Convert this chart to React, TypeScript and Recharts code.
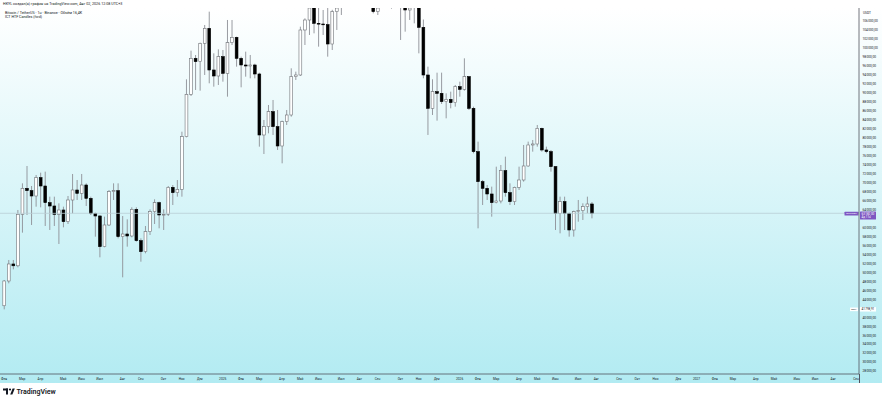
import { ComposedChart, Bar, XAxis, YAxis, ReferenceLine } from "recharts";

// Bitcoin / TetherUS, weekly candles (week 0 = first visible bar)
const OPEN = [
  42600, 48113, 51899, 51500, 62959, 68749, 68229, 67041, 71124, 69268,
  65557, 64815, 62959, 63924, 61325, 66150, 68377, 67635, 69491, 66522,
  63181, 62588, 55759, 60584, 68006, 68229, 57985, 58580, 58134, 64072,
  57095, 54645, 59099, 63553, 65557, 62810, 62959, 68971, 67784, 68526,
  80250, 89683, 97700, 96958, 101040, 104380, 95102, 93766, 98071, 94360,
  101189, 102376, 97700, 96215, 95992, 96215, 94211, 80628, 82483, 85823,
  82483, 78179, 83597, 85081, 93617, 93988, 104010, 106236, 109100, 105494,
  105345, 105197, 100892, 108092, 109200, 119800, 117300, 119400, 114200, 119300,
  117400, 113500, 108092, 111100, 115300, 115200, 112200, 123500, 115200, 108463,
  114500, 110500, 104603, 93988, 86566, 90277, 89906, 88050, 88570, 87827,
  91390, 90797, 93617, 86566, 76917, 70235, 68750, 67488, 65558, 65929,
  72685, 67785, 65780, 68973, 70606, 73724, 78401, 78624, 82112, 77288,
  76917, 73575, 63182, 65780, 63182, 59471, 63553, 63776, 64667, 65261,
];
const HIGH = [
  48336, 52790, 52790, 63924, 69862, 73722, 69268, 71718, 72237, 72460,
  66893, 66893, 65408, 64666, 67041, 71940, 70604, 71940, 69862, 66893,
  63330, 62810, 62439, 68377, 69862, 69862, 62588, 61845, 64518, 64518,
  57614, 60361, 64072, 66299, 65779, 64072, 69268, 69491, 70600, 81360,
  93023, 99407, 98442, 101189, 105123, 108092, 98813, 99704, 99556, 106236,
  106236, 102525, 98071, 99185, 98442, 96500, 94500, 83968, 87307, 88421,
  86195, 83820, 86195, 95473, 94731, 104752, 106607, 111900, 110700, 109205,
  108463, 109205, 108500, 110500, 120000, 123200, 120200, 119800, 119400, 124500,
  117600, 113900, 113400, 116700, 117900, 115300, 125700, 126200, 115900, 116000,
  116400, 111000, 106350, 95840, 93030, 94500, 94508, 89906, 90277, 91761,
  92504, 97700, 93766, 86937, 79143, 70606, 69493, 69122, 73575, 73947,
  75802, 69864, 69122, 73575, 78401, 79143, 79514, 82855, 82260, 78030,
  77288, 73700, 66894, 66894, 63330, 63776, 66152, 65409, 66894, 65706,
];
const LOW = [
  41798.91, 47594, 50711, 51156, 58876, 62810, 60584, 64666, 64518, 60361,
  59470, 60361, 56352, 60064, 60806, 63181, 66150, 66150, 64815, 62810,
  57985, 53383, 55610, 60361, 66150, 57614, 48929, 55759, 57837, 56872,
  52418, 54274, 58357, 60806, 59842, 59470, 62588, 65037, 66893, 66893,
  80100, 89312, 90648, 90500, 93988, 92133, 91390, 91761, 92504, 89164,
  100669, 95844, 91242, 93617, 93246, 93246, 78030, 76397, 81000, 80628,
  77288, 74318, 82855, 84710, 92875, 93766, 100669, 102896, 103267, 100298,
  102896, 98071, 99556, 104010, 107350, 115700, 114700, 112000, 112600, 116800,
  110600, 107721, 107350, 110600, 114400, 108760, 111600, 101783, 103639, 106236,
  105494, 98813, 93250, 80630, 85080, 83820, 87530, 84339, 86566, 86937,
  89164, 90500, 86195, 76545, 59842, 65038, 66152, 62440, 65409, 65409,
  66894, 65038, 65038, 68379, 70235, 73575, 76917, 78030, 76917, 76545,
  72462, 59471, 58729, 59471, 57987, 57987, 61326, 61697, 63182, 62068,
];
const CLOSE = [
  48113, 51899, 51500, 62959, 68749, 68229, 67041, 71124, 69268, 65557,
  64815, 62959, 63924, 61325, 66150, 68377, 67635, 69491, 66522, 63181,
  62588, 55759, 60584, 68006, 68229, 57985, 58580, 58134, 64072, 57095,
  54645, 59099, 63553, 65557, 62810, 62959, 68971, 67784, 68526, 80250,
  89683, 97700, 96958, 101040, 104380, 95102, 93766, 98071, 94360, 101189,
  102376, 97700, 96215, 95992, 96215, 94211, 80628, 82483, 85823, 82483,
  78179, 83597, 85081, 93617, 93988, 104010, 106236, 109100, 105494, 105345,
  105197, 100892, 108092, 109200, 119800, 117300, 119400, 114200, 119300, 117400,
  113500, 108092, 111100, 115300, 115200, 112200, 123500, 115200, 108463, 114500,
  110500, 104603, 93988, 86566, 90277, 89906, 88050, 88570, 87827, 91390,
  90797, 93617, 86566, 76917, 70235, 68750, 67488, 65558, 65929, 72685,
  67785, 65780, 68973, 70606, 73724, 78401, 78624, 82112, 77288, 76917,
  73575, 63182, 65780, 63182, 59471, 63553, 63776, 64667, 65261, 63182,
];

// month ticks on the time scale (week index of the first bar of each month)
const MONTH_TICKS = [
  0, 4, 8, 13, 17, 21, 26, 30, 35, 39, 43,
  48, 52, 56, 61, 65, 69, 74, 78, 82, 87, 91, 95,
  100, 104, 108, 113, 117, 121, 126, 130, 135, 139, 143, 148,
  152, 156, 160, 165, 169, 174, 178, 182, 187,
];
const MONTH_LABELS = [
  "Фев", "Мар", "Апр", "Май", "Июн", "Июл", "Авг", "Сен", "Окт", "Ноя", "Дек",
  "2025", "Фев", "Мар", "Апр", "Май", "Июн", "Июл", "Авг", "Сен", "Окт", "Ноя", "Дек",
  "2026", "Фев", "Мар", "Апр", "Май", "Июн", "Июл", "Авг", "Сен", "Окт", "Ноя", "Дек",
  "2027", "Фев", "Мар", "Апр", "Май", "Июн", "Июл", "Авг", "Сен",
];

// 42 000 and 62 000 sit under the price labels, so they are not shown
const PRICE_TICKS = [
  28000, 30000, 32000, 34000, 36000, 38000, 40000, 44000, 46000, 48000,
  50000, 52000, 54000, 56000, 58000, 60000, 64000, 66000, 68000, 70000,
  72000, 74000, 76000, 78000, 80000, 82000, 84000, 86000, 88000, 90000,
  92000, 94000, 96000, 98000, 100000, 102000, 104000, 106000,
];

const LAST_PRICE = 63182;
const VISIBLE_LOW = 41798.91;

const W = 882;
const H = 401;
const TOP = 8;
const FONT = "Roboto, 'Liberation Sans', Arial, sans-serif";
const TEXT = "#131722";
const PURPLE = "#7e57c2";

const data = CLOSE.map((close, i) => ({
  i,
  open: OPEN[i],
  high: HIGH[i],
  low: LOW[i],
  close,
}));

const fmtPrice = (v: number) => {
  const whole = Math.floor(v);
  const cents = Math.round((v - whole) * 100);
  const th = Math.floor(whole / 1000);
  const rest = String(whole % 1000).padStart(3, "0");
  return `${th > 0 ? th + "\u202f" + rest : whole % 1000},${String(cents).padStart(2, "0")}`;
};

const monthLabel = (v: number) => {
  const k = MONTH_TICKS.indexOf(v);
  return k >= 0 ? MONTH_LABELS[k] : "";
};

const Candle = (props: any) => {
  const { x, y, width, height, payload } = props;
  if (x == null || y == null || !payload) return <g />;
  const top = Math.min(y, y + height);
  const h = Math.abs(height);
  const { open, high, low, close } = payload;
  const k = high > low ? h / (high - low) : 0;
  const py = (v: number) => top + (high - v) * k;
  const cx = x + width / 2;
  const yLow = top + h;
  if (yLow <= TOP) return <g />;
  const up = close >= open;
  const wickTop = Math.max(top, TOP);
  let bTop = py(Math.max(open, close));
  const bBot = py(Math.min(open, close));
  const bodyVisible = bBot > TOP;
  bTop = Math.max(bTop, TOP);
  const bh = Math.max(bBot - bTop, 0.8);
  return (
    <g>
      <line x1={cx} x2={cx} y1={wickTop} y2={yLow} stroke="#8d9096" strokeWidth={0.9} />
      {bodyVisible && (
        <rect
          x={cx - 1.4}
          y={bTop}
          width={2.8}
          height={bh}
          fill={up ? "#ffffff" : "#000000"}
          stroke={up ? "#6f7277" : "#000000"}
          strokeWidth={0.6}
        />
      )}
    </g>
  );
};

const LastPriceTag = (props: any) => {
  const vb = props.viewBox;
  if (!vb) return null;
  const right = vb.x + vb.width;
  const yy = vb.y;
  return (
    <g fontFamily={FONT}>
      <rect x={right - 14.5} y={yy - 1.6} width={14} height={3.8} fill={PURPLE} rx={0.5} />
      <text x={right - 7.5} y={yy + 0.3} fontSize={2.4} fill="#fff" textAnchor="middle" dominantBaseline="middle">
        BTCUSDT
      </text>
      <rect x={right + 1} y={yy - 1.8} width={16} height={8} fill={PURPLE} rx={0.5} />
      <text x={right + 2.5} y={yy + 0.6} fontSize={3} fill="#fff" dominantBaseline="middle">
        {fmtPrice(LAST_PRICE)}
      </text>
      <text x={right + 2.5} y={yy + 4.2} fontSize={3} fill="#fff" dominantBaseline="middle">
        4д 11ч
      </text>
    </g>
  );
};

const LowTag = (props: any) => {
  const vb = props.viewBox;
  if (!vb) return null;
  const right = vb.x + vb.width;
  const yy = vb.y;
  return (
    <g fontFamily={FONT}>
      <rect x={right - 9} y={yy - 1.8} width={8} height={3.6} fill="#ffffff" />
      <text x={right - 5} y={yy + 0.1} fontSize={2.4} fill={TEXT} textAnchor="middle" dominantBaseline="middle">
        Мин.
      </text>
      <rect x={right + 1} y={yy - 2.2} width={16} height={4.4} fill="#ffffff" />
      <text x={right + 2.5} y={yy + 0.1} fontSize={3} fill={TEXT} dominantBaseline="middle">
        {fmtPrice(VISIBLE_LOW)}
      </text>
    </g>
  );
};

const TvLogo = () => (
  <svg width={60} height={12} style={{ position: "absolute", left: 2, top: 386 }}>
    <rect x={1} y={2.5} width={5} height={2} fill={TEXT} />
    <rect x={4} y={2.5} width={2} height={6} fill={TEXT} />
    <circle cx={8} cy={3.5} r={1.1} fill={TEXT} />
    <polygon points="8.2,8.5 10.6,2.5 12.8,2.5 10.4,8.5" fill={TEXT} />
    <text x={14.5} y={8.4} fontSize={7} fontWeight={600} fill={TEXT} fontFamily={FONT}>
      TradingView
    </text>
  </svg>
);

export default function App() {
  return (
    <div
      style={{
        position: "relative",
        width: W,
        height: H,
        background: "#ffffff",
        overflow: "hidden",
        fontFamily: FONT,
      }}
    >
      <style>{`body{margin:0}`}</style>
      <div
        style={{
          position: "absolute",
          left: 0,
          top: TOP,
          width: W,
          height: 375,
          background: "linear-gradient(#ffffff, #b2ebf2)",
        }}
      />
      <div style={{ position: "absolute", left: 0, top: 0 }}>
        <ComposedChart
          width={W}
          height={H}
          data={data}
          margin={{ top: TOP, right: 0, bottom: 18, left: 0 }}
        >
          <XAxis
            dataKey="i"
            type="number"
            domain={[-0.878, 187.66]}
            allowDataOverflow
            ticks={MONTH_TICKS}
            interval={0}
            tickFormatter={monthLabel}
            height={9}
            tickLine={false}
            tickSize={0}
            tickMargin={3.5}
            axisLine={{ stroke: "#50535e", strokeWidth: 0.8 }}
            tick={{ fontSize: 3.2, fill: TEXT, fontFamily: FONT }}
          />
          <YAxis
            orientation="right"
            type="number"
            domain={[27400, 108908]}
            allowDataOverflow
            ticks={PRICE_TICKS}
            interval={0}
            tickFormatter={fmtPrice}
            width={23}
            tickLine={false}
            tickSize={0}
            tickMargin={3.5}
            axisLine={{ stroke: "#50535e", strokeWidth: 0.8 }}
            tick={{ fontSize: 3.2, fill: TEXT, fontFamily: FONT }}
          />
          <ReferenceLine
            y={LAST_PRICE}
            stroke="#b9cfd5"
            strokeWidth={0.8}
            label={(p: any) => <LastPriceTag {...p} />}
          />
          <ReferenceLine
            y={VISIBLE_LOW}
            stroke="none"
            strokeOpacity={0}
            label={(p: any) => <LowTag {...p} />}
          />
          <Bar
            dataKey={(d: any) => [d.low, d.high]}
            barSize={3}
            shape={(p: any) => <Candle {...p} />}
            isAnimationActive={false}
          />
        </ComposedChart>
      </div>
      <div style={{ position: "absolute", left: 859, top: 374, width: 0.8, height: 9, background: "#50535e" }} />
      <div style={{ position: "absolute", left: 863, top: 11, fontSize: 3.2, color: TEXT, lineHeight: "4px" }}>USDT</div>
      <div style={{ position: "absolute", left: 3, top: 2, fontSize: 3.7, color: TEXT, lineHeight: "4px", whiteSpace: "nowrap" }}>
        НКYL создал(а) график на TradingView.com, Авг 02, 2026 12:08 UTC+3
      </div>
      <div style={{ position: "absolute", left: 5, top: 10.5, fontSize: 3.7, color: TEXT, lineHeight: "4px", whiteSpace: "nowrap" }}>
        Bitcoin / TetherUS · 1н · Binance · Объём 16,4K
      </div>
      <div style={{ position: "absolute", left: 5, top: 15, fontSize: 3.7, color: TEXT, lineHeight: "4px", whiteSpace: "nowrap" }}>
        ICT HTF Candles (fwd)
      </div>
      <TvLogo />
    </div>
  );
}
